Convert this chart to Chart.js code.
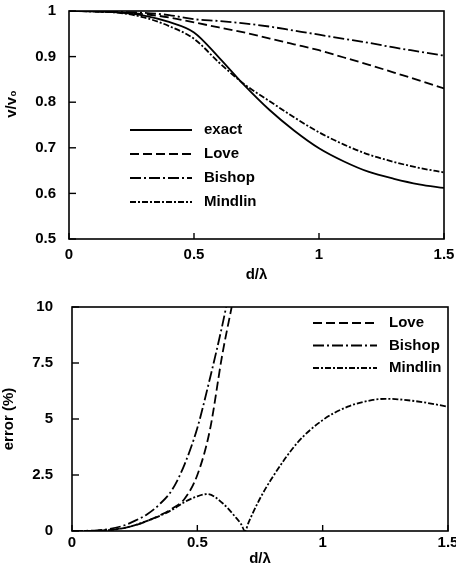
<!DOCTYPE html>
<html>
<head>
<meta charset="utf-8">
<script src="https://cdn.jsdelivr.net/npm/chart.js@4.4.1/dist/chart.umd.min.js"></script>
<style>
    html, body { margin: 0; padding: 0; background: #fff; }
    canvas { display: block; }
</style>
</head>
<body>
<canvas id="velChart" width="456" height="290"></canvas>
<canvas id="errChart" width="456" height="282"></canvas>
<script>
// Top panel: v/v0 against d/lambda
const dRatio   = [0, 0.1, 0.2, 0.3, 0.4, 0.5, 0.6, 0.7, 0.8, 0.9, 1.0, 1.1, 1.2, 1.3, 1.4, 1.5];
const exactV   = [1, 0.999, 0.997, 0.99, 0.976, 0.953, 0.898, 0.838, 0.784, 0.738, 0.699, 0.670, 0.647, 0.632, 0.620, 0.612];
const loveV    = [1, 0.999, 0.997, 0.993, 0.986, 0.975, 0.964, 0.953, 0.940, 0.927, 0.914, 0.898, 0.882, 0.865, 0.848, 0.830];
const bishopV  = [1, 0.9995, 0.998, 0.996, 0.991, 0.982, 0.978, 0.973, 0.966, 0.957, 0.948, 0.939, 0.930, 0.920, 0.911, 0.902];
const mindlinV = [1, 0.999, 0.996, 0.986, 0.967, 0.939, 0.887, 0.840, 0.803, 0.767, 0.734, 0.707, 0.685, 0.669, 0.656, 0.646];

// Bottom panel: error (%) against d/lambda
const loveErrD    = [0, 0.1, 0.2, 0.25, 0.3, 0.35, 0.4, 0.45, 0.5, 0.55, 0.6, 0.637];
const loveErr     = [0, 0.01, 0.12, 0.25, 0.45, 0.7, 1.0, 1.45, 2.5, 4.5, 7.9, 10];
const bishopErrD  = [0, 0.1, 0.2, 0.25, 0.3, 0.35, 0.4, 0.45, 0.5, 0.55, 0.6, 0.615];
const bishopErr   = [0, 0.03, 0.22, 0.45, 0.75, 1.2, 1.85, 3.0, 4.6, 6.8, 9.2, 10];
const mindlinErrD = [0, 0.1, 0.2, 0.3, 0.4, 0.45, 0.5, 0.54, 0.6, 0.65, 0.675, 0.69, 0.705, 0.75, 0.8, 0.9, 1.0, 1.1, 1.2, 1.25, 1.3, 1.4, 1.5];
const mindlinErr  = [0, 0.01, 0.12, 0.45, 0.95, 1.3, 1.55, 1.65, 1.25, 0.65, 0.3, 0, 0.4, 1.45, 2.4, 3.95, 4.95, 5.55, 5.85, 5.9, 5.88, 5.75, 5.55];

const dashes = {
    exact: [],
    Love: [9, 4],
    Bishop: [11, 3, 2, 3],
    Mindlin: [6, 2, 2, 2]
};

Chart.defaults.font.family = '"Liberation Sans", Arial, sans-serif';
Chart.defaults.font.size = 15;
Chart.defaults.font.weight = 'bold';
Chart.defaults.color = '#000';

function pts(xs, ys) {
    return xs.map((x, i) => ({ x: x, y: ys[i] }));
}

function lineSet(name, data) {
    return {
        label: name,
        data: data,
        borderColor: '#000',
        borderWidth: 1.8,
        borderDash: dashes[name],
        pointRadius: 0,
        fill: false,
        cubicInterpolationMode: 'monotone'
    };
}

// "1" rather than "1.0"
function plainLabel(value) {
    return String(Number(value.toFixed(2)));
}

// frame, inward ticks, in-plot legend and (optionally) an off-centre y title
const framePlugin = {
    id: 'frame',
    afterDatasetsDraw(chart, args, opts) {
        const ctx = chart.ctx;
        const a = chart.chartArea;
        const xs = chart.scales.x, ys = chart.scales.y;
        ctx.save();
        ctx.strokeStyle = '#000';
        ctx.lineWidth = 1.6;
        ctx.setLineDash([]);
        ctx.strokeRect(a.left, a.top, a.right - a.left, a.bottom - a.top);
        ctx.lineWidth = 1.4;
        ys.ticks.forEach(t => {
            const y = ys.getPixelForValue(t.value);
            ctx.beginPath();
            ctx.moveTo(a.left, y);
            ctx.lineTo(a.left + 7, y);
            ctx.stroke();
        });
        xs.ticks.forEach(t => {
            const x = xs.getPixelForValue(t.value);
            ctx.beginPath();
            ctx.moveTo(x, a.bottom);
            ctx.lineTo(x, a.bottom - 6);
            ctx.stroke();
        });

        ctx.font = 'bold 15px "Liberation Sans", Arial, sans-serif';
        ctx.fillStyle = '#000';

        if (opts.yTitle) {
            ctx.save();
            ctx.translate(opts.yTitle.x, opts.yTitle.y);
            ctx.rotate(-Math.PI / 2);
            ctx.textAlign = 'center';
            ctx.textBaseline = 'middle';
            ctx.fillText(opts.yTitle.text, 0, 0);
            ctx.restore();
        }

        // legend
        ctx.textBaseline = 'middle';
        chart.data.datasets.forEach((ds, i) => {
            const y = opts.y0 + i * opts.dy;
            ctx.lineWidth = 1.8;
            ctx.setLineDash(ds.borderDash || []);
            ctx.beginPath();
            ctx.moveTo(opts.x1, y);
            ctx.lineTo(opts.x2, y);
            ctx.stroke();
            ctx.setLineDash([]);
            ctx.fillText(ds.label, opts.tx, y);
        });
        ctx.restore();
    }
};

function fixWidth(w) {
    return function(scale) {
        scale.width = w;
        scale.paddingTop = 0;
        scale.paddingBottom = 0;
    };
}
function fixHeight(h) {
    return function(scale) {
        scale.height = h;
        scale.paddingLeft = 0;
        scale.paddingRight = 0;
    };
}

new Chart(document.getElementById('velChart'), {
    type: 'line',
    data: {
        datasets: [
            lineSet('exact', pts(dRatio, exactV)),
            lineSet('Love', pts(dRatio, loveV)),
            lineSet('Bishop', pts(dRatio, bishopV)),
            lineSet('Mindlin', pts(dRatio, mindlinV))
        ]
    },
    options: {
        responsive: false,
        animation: false,
        layout: { padding: { top: 11, right: 12, left: 0, bottom: 0 } },
        plugins: {
            legend: { display: false },
            tooltip: { enabled: false },
            frame: {
                x1: 130, x2: 192, tx: 204, y0: 130, dy: 24,
                yTitle: { text: 'v/v₀', x: 12, y: 104 }
            }
        },
        scales: {
            x: {
                type: 'linear',
                min: 0,
                max: 1.5,
                afterFit: fixHeight(51),
                ticks: { stepSize: 0.5, padding: 7, maxRotation: 0, callback: plainLabel },
                grid: { display: false, drawTicks: false },
                border: { display: false },
                title: { display: true, text: 'd/λ', padding: { top: 0, bottom: 6 } }
            },
            y: {
                min: 0.5,
                max: 1,
                afterFit: fixWidth(69),
                ticks: { stepSize: 0.1, padding: 13, callback: plainLabel },
                grid: { display: false, drawTicks: false },
                border: { display: false }
            }
        }
    },
    plugins: [framePlugin]
});

new Chart(document.getElementById('errChart'), {
    type: 'line',
    data: {
        datasets: [
            lineSet('Love', pts(loveErrD, loveErr)),
            lineSet('Bishop', pts(bishopErrD, bishopErr)),
            lineSet('Mindlin', pts(mindlinErrD, mindlinErr))
        ]
    },
    options: {
        responsive: false,
        animation: false,
        layout: { padding: { top: 17, right: 8, left: 0, bottom: 0 } },
        plugins: {
            legend: { display: false },
            tooltip: { enabled: false },
            frame: { x1: 313, x2: 377, tx: 389, y0: 33, dy: 22.5 }
        },
        scales: {
            x: {
                type: 'linear',
                min: 0,
                max: 1.5,
                afterFit: fixHeight(41),
                ticks: { stepSize: 0.5, padding: 3, maxRotation: 0, callback: plainLabel },
                grid: { display: false, drawTicks: false },
                border: { display: false },
                title: { display: true, text: 'd/λ', padding: { top: 0, bottom: 4 } }
            },
            y: {
                min: 0,
                max: 10,
                afterFit: fixWidth(72),
                ticks: { stepSize: 2.5, padding: 19, callback: plainLabel },
                grid: { display: false, drawTicks: false },
                border: { display: false },
                title: { display: true, text: 'error (%)', padding: { top: 0, bottom: 0 } }
            }
        }
    },
    plugins: [framePlugin]
});
</script>
</body>
</html>
